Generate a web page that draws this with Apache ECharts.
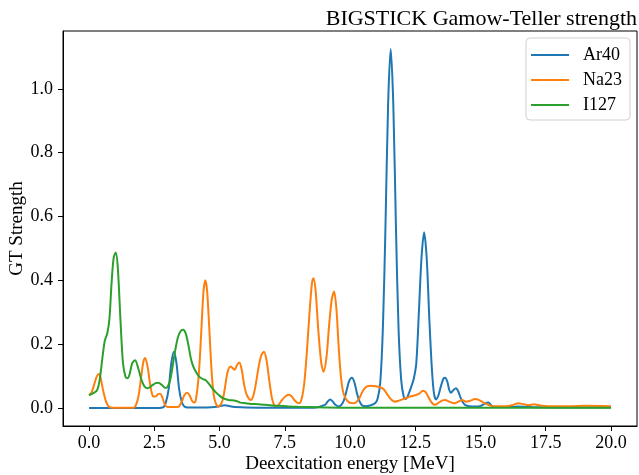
<!DOCTYPE html>
<html>
<head>
<meta charset="utf-8">
<script src="https://cdn.jsdelivr.net/npm/echarts@6/dist/echarts.min.js"></script>
<style>
  html, body { margin: 0; padding: 0; background: #fff; }
  #chart { width: 639px; height: 475px; }
</style>
</head>
<body>
<div id="chart"></div>
<script>
// values: [energy MeV, strength]
var ar40 = [
  [0, 0], [2.6, 0], [2.85, 0.003], [2.95, 0.02], [3.05, 0.06], [3.15, 0.14], [3.25, 0.176],
  [3.35, 0.14], [3.45, 0.06], [3.55, 0.02], [3.65, 0.005], [3.8, 0.002], [4.5, 0.002],
  [4.9, 0.004], [5.2, 0.009], [5.5, 0.004], [6.0, 0.002], [7.0, 0.001], [8.6, 0.001],
  [9.04, 0.01], [9.14, 0.02], [9.24, 0.027], [9.34, 0.02], [9.44, 0.01], [9.56, 0.005],
  [9.67, 0.01], [9.77, 0.025], [9.87, 0.055], [9.97, 0.085], [10.07, 0.095], [10.17, 0.08],
  [10.27, 0.045], [10.37, 0.02], [10.47, 0.008], [10.6, 0.006], [10.8, 0.009], [10.96, 0.015],
  [11.06, 0.03], [11.16, 0.08], [11.26, 0.25], [11.36, 0.57], [11.46, 0.95], [11.56, 1.125],
  [11.66, 0.95], [11.76, 0.57], [11.86, 0.25], [11.96, 0.09], [12.06, 0.035], [12.14, 0.028],
  [12.25, 0.045], [12.36, 0.07], [12.44, 0.09], [12.54, 0.14], [12.64, 0.3], [12.74, 0.47],
  [12.84, 0.551], [12.94, 0.47], [13.04, 0.28], [13.14, 0.12], [13.22, 0.045], [13.3, 0.027],
  [13.39, 0.04], [13.49, 0.07], [13.58, 0.092], [13.65, 0.095], [13.74, 0.08], [13.8, 0.058],
  [13.87, 0.048], [13.96, 0.056], [14.06, 0.062], [14.15, 0.052], [14.25, 0.03], [14.35, 0.015],
  [14.45, 0.008], [14.7, 0.005], [14.98, 0.006], [15.15, 0.013], [15.3, 0.017], [15.45, 0.006],
  [15.7, 0.003], [16.2, 0.003], [16.44, 0.005], [16.8, 0.003], [18, 0.002], [20, 0.002]
];
var na23 = [
  [0, 0.04], [0.1, 0.05], [0.2, 0.075], [0.3, 0.1], [0.38, 0.107], [0.45, 0.092], [0.55, 0.05],
  [0.65, 0.02], [0.75, 0.005], [0.9, 0.001], [1.7, 0.001], [1.8, 0.01], [1.9, 0.04], [2.0, 0.1],
  [2.08, 0.145], [2.15, 0.157], [2.24, 0.13], [2.35, 0.07], [2.45, 0.037], [2.55, 0.036],
  [2.65, 0.044], [2.72, 0.045], [2.8, 0.035], [2.9, 0.012], [3.0, 0.003], [3.4, 0.003],
  [3.55, 0.02], [3.65, 0.04], [3.75, 0.048], [3.85, 0.04], [3.95, 0.022], [4.03, 0.017],
  [4.1, 0.03], [4.2, 0.1], [4.3, 0.24], [4.38, 0.36], [4.45, 0.4], [4.52, 0.37], [4.6, 0.26],
  [4.7, 0.11], [4.8, 0.03], [4.95, 0.004], [5.1, 0.02], [5.2, 0.06], [5.3, 0.11], [5.42, 0.13],
  [5.5, 0.125], [5.58, 0.12], [5.67, 0.135], [5.76, 0.143], [5.85, 0.12], [5.95, 0.07],
  [6.05, 0.04], [6.2, 0.025], [6.3, 0.04], [6.4, 0.08], [6.5, 0.13], [6.6, 0.165], [6.7, 0.176],
  [6.8, 0.15], [6.9, 0.09], [7.0, 0.035], [7.1, 0.008], [7.2, 0.006], [7.35, 0.02], [7.5, 0.035],
  [7.65, 0.042], [7.75, 0.038], [7.9, 0.022], [8.05, 0.015], [8.15, 0.03], [8.25, 0.08],
  [8.35, 0.18], [8.45, 0.3], [8.54, 0.39], [8.6, 0.407], [8.68, 0.37], [8.78, 0.25], [8.9, 0.14],
  [8.99, 0.114], [9.1, 0.16], [9.2, 0.26], [9.3, 0.34], [9.39, 0.365], [9.48, 0.31], [9.56, 0.2],
  [9.65, 0.1], [9.75, 0.046], [9.9, 0.022], [10.1, 0.015], [10.2, 0.016], [10.35, 0.03],
  [10.5, 0.055], [10.65, 0.068], [10.8, 0.07], [11.0, 0.068], [11.15, 0.065], [11.3, 0.058],
  [11.45, 0.04], [11.6, 0.025], [11.73, 0.02], [11.9, 0.024], [12.1, 0.03], [12.3, 0.036],
  [12.5, 0.04], [12.65, 0.045], [12.8, 0.054], [12.9, 0.05], [13.0, 0.035], [13.15, 0.015],
  [13.26, 0.01], [13.4, 0.017], [13.55, 0.024], [13.65, 0.025], [13.8, 0.02], [14.0, 0.015],
  [14.15, 0.02], [14.3, 0.025], [14.45, 0.02], [14.6, 0.023], [14.8, 0.028], [14.95, 0.025],
  [15.1, 0.018], [15.3, 0.01], [15.45, 0.006], [16.0, 0.006], [16.25, 0.01], [16.45, 0.015],
  [16.65, 0.012], [16.85, 0.009], [17.05, 0.012], [17.3, 0.008], [17.6, 0.006], [18.5, 0.006],
  [19.0, 0.007], [20.0, 0.006]
];
var i127 = [
  [0, 0.04], [0.15, 0.046], [0.3, 0.055], [0.4, 0.085], [0.5, 0.15], [0.6, 0.21], [0.7, 0.235],
  [0.78, 0.28], [0.86, 0.39], [0.94, 0.47], [1.02, 0.487], [1.1, 0.44], [1.2, 0.28], [1.3, 0.14],
  [1.4, 0.097], [1.47, 0.093], [1.55, 0.105], [1.65, 0.14], [1.76, 0.15], [1.9, 0.12], [2.0, 0.09],
  [2.12, 0.068], [2.25, 0.062], [2.4, 0.07], [2.55, 0.078], [2.65, 0.079], [2.78, 0.073],
  [2.92, 0.063], [3.0, 0.066], [3.1, 0.085], [3.2, 0.13], [3.3, 0.18], [3.4, 0.22], [3.5, 0.24],
  [3.6, 0.245], [3.7, 0.235], [3.8, 0.2], [3.9, 0.155], [3.97, 0.135], [4.05, 0.12], [4.2, 0.1],
  [4.35, 0.091], [4.46, 0.088], [4.6, 0.075], [4.72, 0.062], [4.85, 0.05], [4.97, 0.041],
  [5.15, 0.03], [5.35, 0.025], [5.6, 0.023], [5.8, 0.017], [6.0, 0.015], [6.2, 0.013],
  [6.5, 0.012], [6.76, 0.01], [7.0, 0.008], [7.27, 0.007], [7.65, 0.005], [8.0, 0.004],
  [8.5, 0.003], [9.0, 0.002], [10, 0.001], [20, 0.001]
];

var xTicks = [0, 2.5, 5, 7.5, 10, 12.5, 15, 17.5, 20];
var yTicks = [0, 0.2, 0.4, 0.6, 0.8, 1.0];

var names = ['Ar40', 'Na23', 'I127'];
var colors = ['#1f77b4', '#ff7f0e', '#2ca02c'];
var serif = '"Liberation Serif", "DejaVu Serif", serif';

var chart = echarts.init(document.getElementById('chart'));

function tickStyle(values) {
    return {
        show: true,
        customValues: values,
        length: 5,
        inside: false,
        lineStyle: { color: '#000', width: 1 }
    };
}

function labelStyle(values, margin) {
    return {
        customValues: values,
        margin: margin,
        fontFamily: serif,
        fontSize: 18,
        color: '#000',
        formatter: function (v) { return v.toFixed(1); }
    };
}

var option = {
    animation: false,
    backgroundColor: '#fff',
    title: {
        text: 'BIGSTICK Gamow-Teller strength',
        right: -3,
        top: 3,
        textStyle: {
            fontFamily: serif,
            fontWeight: 'normal',
            fontSize: 22,
            color: '#000'
        }
    },
    legend: {
        data: names,
        orient: 'vertical',
        right: 9,
        top: 38,
        icon: 'rect',
        itemWidth: 38,
        itemHeight: 2,
        itemGap: 7,
        padding: [8, 8, 6, 5],
        borderColor: '#d0d0d0',
        borderWidth: 1,
        borderRadius: 4,
        textStyle: {
            fontFamily: serif,
            fontSize: 18,
            color: '#000',
            padding: [0, 0, 0, 9]
        }
    },
    grid: {
        left: 63,
        right: 2,
        top: 31,
        bottom: 49,
        outerBoundsMode: 'none',
        containLabel: false,
        show: true,
        borderColor: '#000',
        borderWidth: 1,
        backgroundColor: '#fff'
    },
    xAxis: {
        type: 'value',
        min: -1,
        max: 21,
        name: 'Deexcitation energy [MeV]',
        nameLocation: 'middle',
        nameGap: 29,
        nameMoveOverlap: false,
        nameTextStyle: { fontFamily: serif, fontSize: 19, color: '#000' },
        axisLine: { show: true, onZero: false, lineStyle: { color: '#000', width: 1 } },
        splitLine: { show: false },
        axisTick: tickStyle(xTicks),
        axisLabel: labelStyle(xTicks, 8)
    },
    yAxis: {
        type: 'value',
        min: -0.05625,
        max: 1.18125,
        name: 'GT Strength',
        nameLocation: 'middle',
        nameGap: 36,
        nameMoveOverlap: false,
        nameTextStyle: { fontFamily: serif, fontSize: 19, color: '#000' },
        axisLine: { show: true, onZero: false, lineStyle: { color: '#000', width: 1 } },
        splitLine: { show: false },
        axisTick: tickStyle(yTicks),
        axisLabel: labelStyle(yTicks, 10)
    },
    series: [ar40, na23, i127].map(function (d, i) {
        return {
            name: names[i],
            type: 'line',
            data: d,
            smooth: 0.3,
            showSymbol: false,
            symbol: 'none',
            lineStyle: { color: colors[i], width: 2 },
            itemStyle: { color: colors[i] }
        };
    })
};

chart.setOption(option);
</script>
</body>
</html>
